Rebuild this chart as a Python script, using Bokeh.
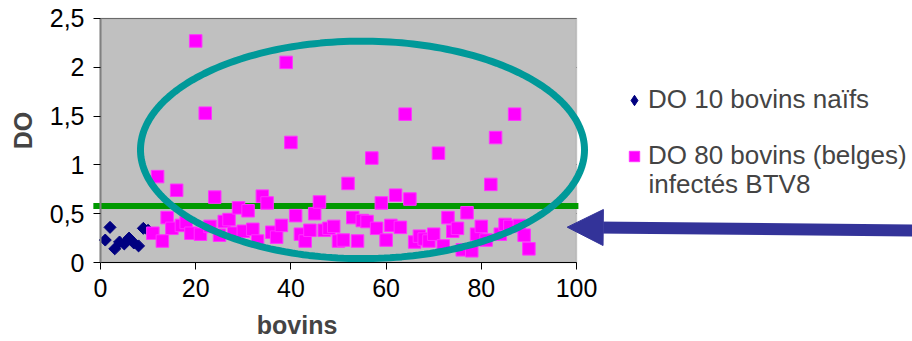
import numpy as np
from bokeh.plotting import figure
from bokeh.models import (Range1d, FixedTicker, Legend, LegendItem, Label,
                          PolyAnnotation, Arrow, NormalHead, BoxAnnotation)
from bokeh.embed import file_html
from bokeh.resources import INLINE

# ---- data ----
blue_x = list(range(1, 11))
blue_y = [0.23, 0.36, 0.14, 0.21, 0.19, 0.25, 0.20, 0.17, 0.35, 0.33]

pink_x = list(range(11, 91))
pink_y = [
    0.30, 0.88, 0.22, 0.46, 0.35, 0.74, 0.38, 0.41, 0.30, 2.27,
    0.29, 1.53, 0.37, 0.67, 0.28, 0.42, 0.44, 0.30, 0.56, 0.32,
    0.53, 0.34, 0.22, 0.68, 0.61, 0.31, 0.26, 0.38, 2.05, 1.23,
    0.48, 0.29, 0.22, 0.33, 0.50, 0.62, 0.33, 0.35, 0.37, 0.22,
    0.23, 0.81, 0.46, 0.22, 0.43, 0.42, 1.07, 0.35, 0.61, 0.23,
    0.38, 0.69, 0.36, 1.52, 0.65, 0.21, 0.27, 0.24, 0.22, 0.29,
    1.12, 0.17, 0.46, 0.32, 0.35, 0.13, 0.51, 0.12, 0.29, 0.37,
    0.23, 0.80, 1.28, 0.29, 0.39, 0.37, 1.52, 0.38, 0.28, 0.14,
]

threshold = 0.58

x_ticks = [0, 20, 40, 60, 80, 100]
y_ticks = [0, 0.5, 1, 1.5, 2, 2.5]
y_tick_labels = ["0", "0,5", "1", "1,5", "2", "2,5"]

label_blue = "DO 10 bovins naïfs"
label_pink = "DO 80 bovins (belges)"
label_pink_2 = "infectés BTV8"
x_title = "bovins"
y_title = "DO"

FONT = "Liberation Sans"
X0, X1, Y0, Y1 = 0, 100, 0, 2.5

# frame covers the whole canvas; data area [0,100]x[0,2.5] sits at px 100..576 / 262..18
p = figure(width=912, height=341, output_backend="svg", toolbar_location=None,
           x_range=Range1d(-21.008, 170.588), y_range=Range1d(-0.8094, 2.6844),
           min_border_left=0, min_border_right=0, min_border_top=0, min_border_bottom=0)

p.background_fill_color = "white"
p.border_fill_color = "white"
p.outline_line_color = None

# plot area background
p.add_layout(BoxAnnotation(left=X0, right=X1, bottom=Y0, top=Y1, fill_color="#C0C0C0",
                           fill_alpha=1, line_color="#808080", line_width=1.5,
                           level="underlay"))

p.xgrid.visible = False
g = p.ygrid[0]
g.ticker = FixedTicker(ticks=y_ticks)
g.grid_line_color = "#000000"
g.grid_line_width = 1
g.level = "underlay"
if "cross_bounds" in g.properties():
    g.cross_bounds = (X0, X1)
else:
    g.visible = False
    p.segment(x0=[X0] * len(y_ticks), x1=[X1] * len(y_ticks), y0=y_ticks, y1=y_ticks,
              line_color="#000000", line_width=1, level="underlay")

p.xaxis.ticker = FixedTicker(ticks=x_ticks)
p.yaxis.ticker = FixedTicker(ticks=y_ticks)
p.yaxis.major_label_overrides = {t: l for t, l in zip(y_ticks, y_tick_labels)}
p.xaxis.fixed_location = Y0
p.yaxis.fixed_location = X0
p.xaxis.bounds = (X0, X1)
p.yaxis.bounds = (Y0, Y1)
for ax in (p.xaxis, p.yaxis):
    ax.major_label_text_font = FONT
    ax.major_label_text_font_size = "25px"
    ax.major_label_text_color = "#000000"
    ax.major_tick_out = 7
    ax.major_tick_in = 0
    ax.minor_tick_line_color = None
    ax.major_tick_line_color = "#000000"
p.xaxis.major_label_standoff = 9
p.yaxis.major_label_standoff = 9
p.xaxis.axis_line_color = "#000000"
p.yaxis.axis_line_color = "#808080"
p.yaxis.axis_line_width = 2

# threshold line
p.segment(x0=[-1.5], x1=[100.4], y0=[threshold], y1=[threshold],
          line_color="#009900", line_width=6)

r_blue = p.scatter(blue_x, blue_y, marker="square", angle=np.pi / 4, size=8.5,
                   fill_color="#000080", line_color="#000080")
r_pink = p.scatter(pink_x, pink_y, marker="square", size=12.5,
                   fill_color="#FF00FF", line_color="#FF33FF")
# legend swatch for the blue series: diamond drawn inside the first blue marker
r_blue_key = p.scatter(x=blue_x[:1], y=blue_y[:1], marker="diamond", size=9,
                       fill_color="#000080", line_color="#000080")

# ellipse highlight
t = np.linspace(0, 2 * np.pi, 240)
cx, cy, ax_, ay_ = 55.04, 1.154, 46.64, 1.114
p.add_layout(PolyAnnotation(xs=list(cx + ax_ * np.cos(t)), ys=list(cy + ay_ * np.sin(t)),
                            fill_alpha=0, line_color="#009999", line_alpha=1, line_width=7))

# arrow
p.add_layout(Arrow(x_start=171.2, y_start=0.328, x_end=98.05, y_end=0.362,
                   line_color="#333399", line_width=12,
                   end=NormalHead(size=36, fill_color="#333399", line_color="#333399")))

# axis titles
p.add_layout(Label(x=41.3, y=-0.645, text=x_title, text_font=FONT, text_font_size="25px",
                   text_font_style="bold", text_align="center", text_baseline="middle"))
p.add_layout(Label(x=-16.3, y=1.352, text=y_title, text_font=FONT, text_font_size="25px",
                   text_font_style="bold", text_align="center", text_baseline="middle",
                   angle=np.pi / 2))

legend = Legend(items=[LegendItem(label=label_blue, renderers=[r_blue_key]),
                       LegendItem(label=label_pink, renderers=[r_pink])],
                location=(621, 170), padding=0, spacing=25,
                glyph_width=26, glyph_height=26, label_standoff=1,
                label_text_font=FONT, label_text_font_size="26px",
                border_line_alpha=0, background_fill_alpha=0)
p.add_layout(legend)
# second line of the pink legend entry
p.add_layout(Label(x=115.13, y=0.809, text=label_pink_2, text_font=FONT,
                   text_font_size="26px", text_align="left", text_baseline="middle"))

open("out.html", "w").write(file_html(p, INLINE))
